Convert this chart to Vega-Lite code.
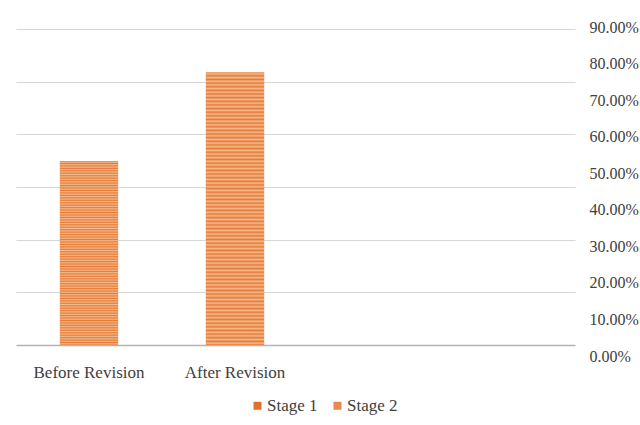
{
  "$schema": "https://vega.github.io/schema/vega-lite/v6.json",
  "autosize": {"type": "none"},
  "width": 559,
  "height": 316,
  "padding": {"left": 16, "top": 29, "right": 65, "bottom": 80},
  "background": "#ffffff",
  "config": {
    "view": {"stroke": null},
    "font": "Liberation Serif"
  },
  "data": {
    "values": [
      {"category": "Before Revision", "stage": "Stage 1", "value": 0.524},
      {"category": "After Revision", "stage": "Stage 2", "value": 0.777}
    ]
  },
  "layer": [
    {
      "mark": {
        "type": "bar",
        "fill": {
          "gradient": "linear", "x1": 0, "y1": 0, "x2": 0, "y2": 1,
          "stops": [
            {"offset": 0, "color": "#E67A35"}, {"offset": 0.0067, "color": "#F4BA8E"}, {"offset": 0.0133, "color": "#E67A35"}, {"offset": 0.02, "color": "#F4BA8E"}, {"offset": 0.0267, "color": "#E67A35"}, {"offset": 0.0333, "color": "#F4BA8E"}, {"offset": 0.04, "color": "#E67A35"}, {"offset": 0.0467, "color": "#F4BA8E"}, {"offset": 0.0533, "color": "#E67A35"}, {"offset": 0.06, "color": "#F4BA8E"}, {"offset": 0.0667, "color": "#E67A35"}, {"offset": 0.0733, "color": "#F4BA8E"}, {"offset": 0.08, "color": "#E67A35"}, {"offset": 0.0867, "color": "#F4BA8E"}, {"offset": 0.0933, "color": "#E67A35"}, {"offset": 0.1, "color": "#F4BA8E"}, {"offset": 0.1067, "color": "#E67A35"}, {"offset": 0.1133, "color": "#F4BA8E"}, {"offset": 0.12, "color": "#E67A35"}, {"offset": 0.1267, "color": "#F4BA8E"}, {"offset": 0.1333, "color": "#E67A35"}, {"offset": 0.14, "color": "#F4BA8E"}, {"offset": 0.1467, "color": "#E67A35"}, {"offset": 0.1533, "color": "#F4BA8E"}, {"offset": 0.16, "color": "#E67A35"}, {"offset": 0.1667, "color": "#F4BA8E"}, {"offset": 0.1733, "color": "#E67A35"}, {"offset": 0.18, "color": "#F4BA8E"}, {"offset": 0.1867, "color": "#E67A35"}, {"offset": 0.1933, "color": "#F4BA8E"},
            {"offset": 0.2, "color": "#E67A35"}, {"offset": 0.2067, "color": "#F4BA8E"}, {"offset": 0.2133, "color": "#E67A35"}, {"offset": 0.22, "color": "#F4BA8E"}, {"offset": 0.2267, "color": "#E67A35"}, {"offset": 0.2333, "color": "#F4BA8E"}, {"offset": 0.24, "color": "#E67A35"}, {"offset": 0.2467, "color": "#F4BA8E"}, {"offset": 0.2533, "color": "#E67A35"}, {"offset": 0.26, "color": "#F4BA8E"}, {"offset": 0.2667, "color": "#E67A35"}, {"offset": 0.2733, "color": "#F4BA8E"}, {"offset": 0.28, "color": "#E67A35"}, {"offset": 0.2867, "color": "#F4BA8E"}, {"offset": 0.2933, "color": "#E67A35"}, {"offset": 0.3, "color": "#F4BA8E"}, {"offset": 0.3067, "color": "#E67A35"}, {"offset": 0.3133, "color": "#F4BA8E"}, {"offset": 0.32, "color": "#E67A35"}, {"offset": 0.3267, "color": "#F4BA8E"}, {"offset": 0.3333, "color": "#E67A35"}, {"offset": 0.34, "color": "#F4BA8E"}, {"offset": 0.3467, "color": "#E67A35"}, {"offset": 0.3533, "color": "#F4BA8E"}, {"offset": 0.36, "color": "#E67A35"}, {"offset": 0.3667, "color": "#F4BA8E"}, {"offset": 0.3733, "color": "#E67A35"}, {"offset": 0.38, "color": "#F4BA8E"}, {"offset": 0.3867, "color": "#E67A35"}, {"offset": 0.3933, "color": "#F4BA8E"},
            {"offset": 0.4, "color": "#E67A35"}, {"offset": 0.4067, "color": "#F4BA8E"}, {"offset": 0.4133, "color": "#E67A35"}, {"offset": 0.42, "color": "#F4BA8E"}, {"offset": 0.4267, "color": "#E67A35"}, {"offset": 0.4333, "color": "#F4BA8E"}, {"offset": 0.44, "color": "#E67A35"}, {"offset": 0.4467, "color": "#F4BA8E"}, {"offset": 0.4533, "color": "#E67A35"}, {"offset": 0.46, "color": "#F4BA8E"}, {"offset": 0.4667, "color": "#E67A35"}, {"offset": 0.4733, "color": "#F4BA8E"}, {"offset": 0.48, "color": "#E67A35"}, {"offset": 0.4867, "color": "#F4BA8E"}, {"offset": 0.4933, "color": "#E67A35"}, {"offset": 0.5, "color": "#F4BA8E"}, {"offset": 0.5067, "color": "#E67A35"}, {"offset": 0.5133, "color": "#F4BA8E"}, {"offset": 0.52, "color": "#E67A35"}, {"offset": 0.5267, "color": "#F4BA8E"}, {"offset": 0.5333, "color": "#E67A35"}, {"offset": 0.54, "color": "#F4BA8E"}, {"offset": 0.5467, "color": "#E67A35"}, {"offset": 0.5533, "color": "#F4BA8E"}, {"offset": 0.56, "color": "#E67A35"}, {"offset": 0.5667, "color": "#F4BA8E"}, {"offset": 0.5733, "color": "#E67A35"}, {"offset": 0.58, "color": "#F4BA8E"}, {"offset": 0.5867, "color": "#E67A35"}, {"offset": 0.5933, "color": "#F4BA8E"},
            {"offset": 0.6, "color": "#E67A35"}, {"offset": 0.6067, "color": "#F4BA8E"}, {"offset": 0.6133, "color": "#E67A35"}, {"offset": 0.62, "color": "#F4BA8E"}, {"offset": 0.6267, "color": "#E67A35"}, {"offset": 0.6333, "color": "#F4BA8E"}, {"offset": 0.64, "color": "#E67A35"}, {"offset": 0.6467, "color": "#F4BA8E"}, {"offset": 0.6533, "color": "#E67A35"}, {"offset": 0.66, "color": "#F4BA8E"}, {"offset": 0.6667, "color": "#E67A35"}, {"offset": 0.6733, "color": "#F4BA8E"}, {"offset": 0.68, "color": "#E67A35"}, {"offset": 0.6867, "color": "#F4BA8E"}, {"offset": 0.6933, "color": "#E67A35"}, {"offset": 0.7, "color": "#F4BA8E"}, {"offset": 0.7067, "color": "#E67A35"}, {"offset": 0.7133, "color": "#F4BA8E"}, {"offset": 0.72, "color": "#E67A35"}, {"offset": 0.7267, "color": "#F4BA8E"}, {"offset": 0.7333, "color": "#E67A35"}, {"offset": 0.74, "color": "#F4BA8E"}, {"offset": 0.7467, "color": "#E67A35"}, {"offset": 0.7533, "color": "#F4BA8E"}, {"offset": 0.76, "color": "#E67A35"}, {"offset": 0.7667, "color": "#F4BA8E"}, {"offset": 0.7733, "color": "#E67A35"}, {"offset": 0.78, "color": "#F4BA8E"}, {"offset": 0.7867, "color": "#E67A35"}, {"offset": 0.7933, "color": "#F4BA8E"},
            {"offset": 0.8, "color": "#E67A35"}, {"offset": 0.8067, "color": "#F4BA8E"}, {"offset": 0.8133, "color": "#E67A35"}, {"offset": 0.82, "color": "#F4BA8E"}, {"offset": 0.8267, "color": "#E67A35"}, {"offset": 0.8333, "color": "#F4BA8E"}, {"offset": 0.84, "color": "#E67A35"}, {"offset": 0.8467, "color": "#F4BA8E"}, {"offset": 0.8533, "color": "#E67A35"}, {"offset": 0.86, "color": "#F4BA8E"}, {"offset": 0.8667, "color": "#E67A35"}, {"offset": 0.8733, "color": "#F4BA8E"}, {"offset": 0.88, "color": "#E67A35"}, {"offset": 0.8867, "color": "#F4BA8E"}, {"offset": 0.8933, "color": "#E67A35"}, {"offset": 0.9, "color": "#F4BA8E"}, {"offset": 0.9067, "color": "#E67A35"}, {"offset": 0.9133, "color": "#F4BA8E"}, {"offset": 0.92, "color": "#E67A35"}, {"offset": 0.9267, "color": "#F4BA8E"}, {"offset": 0.9333, "color": "#E67A35"}, {"offset": 0.94, "color": "#F4BA8E"}, {"offset": 0.9467, "color": "#E67A35"}, {"offset": 0.9533, "color": "#F4BA8E"}, {"offset": 0.96, "color": "#E67A35"}, {"offset": 0.9667, "color": "#F4BA8E"}, {"offset": 0.9733, "color": "#E67A35"}, {"offset": 0.98, "color": "#F4BA8E"}, {"offset": 0.9867, "color": "#E67A35"}, {"offset": 0.9933, "color": "#F4BA8E"},
            {"offset": 1, "color": "#E67A35"}
          ]
        }
      },
      "encoding": {
        "x": {
          "field": "category",
          "type": "nominal",
          "sort": ["Before Revision", "After Revision"],
          "scale": {"range": [0, 292], "paddingInner": 0.6, "paddingOuter": 0.3},
          "axis": {
            "title": null,
            "labelAngle": 0,
            "domain": false,
            "ticks": false,
            "labelPadding": 19,
            "labelFont": "Liberation Serif",
            "labelFontSize": 17,
            "labelColor": "#404040"
          }
        },
        "y": {
          "field": "value",
          "type": "quantitative",
          "scale": {"domain": [0, 0.9], "nice": false},
          "axis": null
        }
      }
    },
    {
      "mark": {"type": "bar", "opacity": 0},
      "encoding": {
        "x": {"field": "category", "type": "nominal", "axis": null},
        "y": {
          "field": "value",
          "type": "quantitative",
          "scale": {"domain": [0, 0.9], "nice": false},
          "axis": {
            "orient": "left",
            "title": null,
            "values": [0, 0.15, 0.3, 0.45, 0.6, 0.75, 0.9],
            "labels": false,
            "ticks": false,
            "domain": false,
            "grid": true,
            "gridColor": {"condition": {"test": "datum.value === 0", "value": "#b4b4b4"}, "value": "#d6d6d6"},
            "gridWidth": {"condition": {"test": "datum.value === 0", "value": 1.6}, "value": 1.2}
          }
        }
      }
    },
    {
      "mark": {"type": "bar", "opacity": 0},
      "encoding": {
        "x": {"field": "category", "type": "nominal", "axis": null},
        "y": {
          "field": "value",
          "type": "quantitative",
          "scale": {"domain": [0, 0.9], "nice": false, "range": [327, -2]},
          "axis": {
            "orient": "right",
            "title": null,
            "values": [0, 0.1, 0.2, 0.3, 0.4, 0.5, 0.6, 0.7, 0.8, 0.9],
            "format": ".2%",
            "grid": false,
            "ticks": false,
            "domain": false,
            "labelPadding": 14,
            "labelAlign": "left",
            "labelFont": "Liberation Serif",
            "labelFontSize": 16,
            "labelColor": "#404040"
          }
        },
        "color": {
          "field": "stage",
          "type": "nominal",
          "scale": {"domain": ["Stage 1", "Stage 2"], "range": ["#E2712E", "#EA8A4C"]},
          "legend": {
            "title": null,
            "orient": "none",
            "direction": "horizontal",
            "legendX": 233,
            "legendY": 368,
            "padding": 0,
            "symbolType": "square",
            "symbolSize": 64,
            "symbolOpacity": 1,
            "symbolStrokeWidth": 0,
            "labelOffset": 1,
            "columnPadding": 11,
            "labelFont": "Liberation Serif",
            "labelFontSize": 17,
            "labelColor": "#404040"
          }
        }
      }
    }
  ],
  "resolve": {
    "scale": {"x": "independent", "y": "independent"},
    "axis": {"x": "independent", "y": "independent"}
  }
}
